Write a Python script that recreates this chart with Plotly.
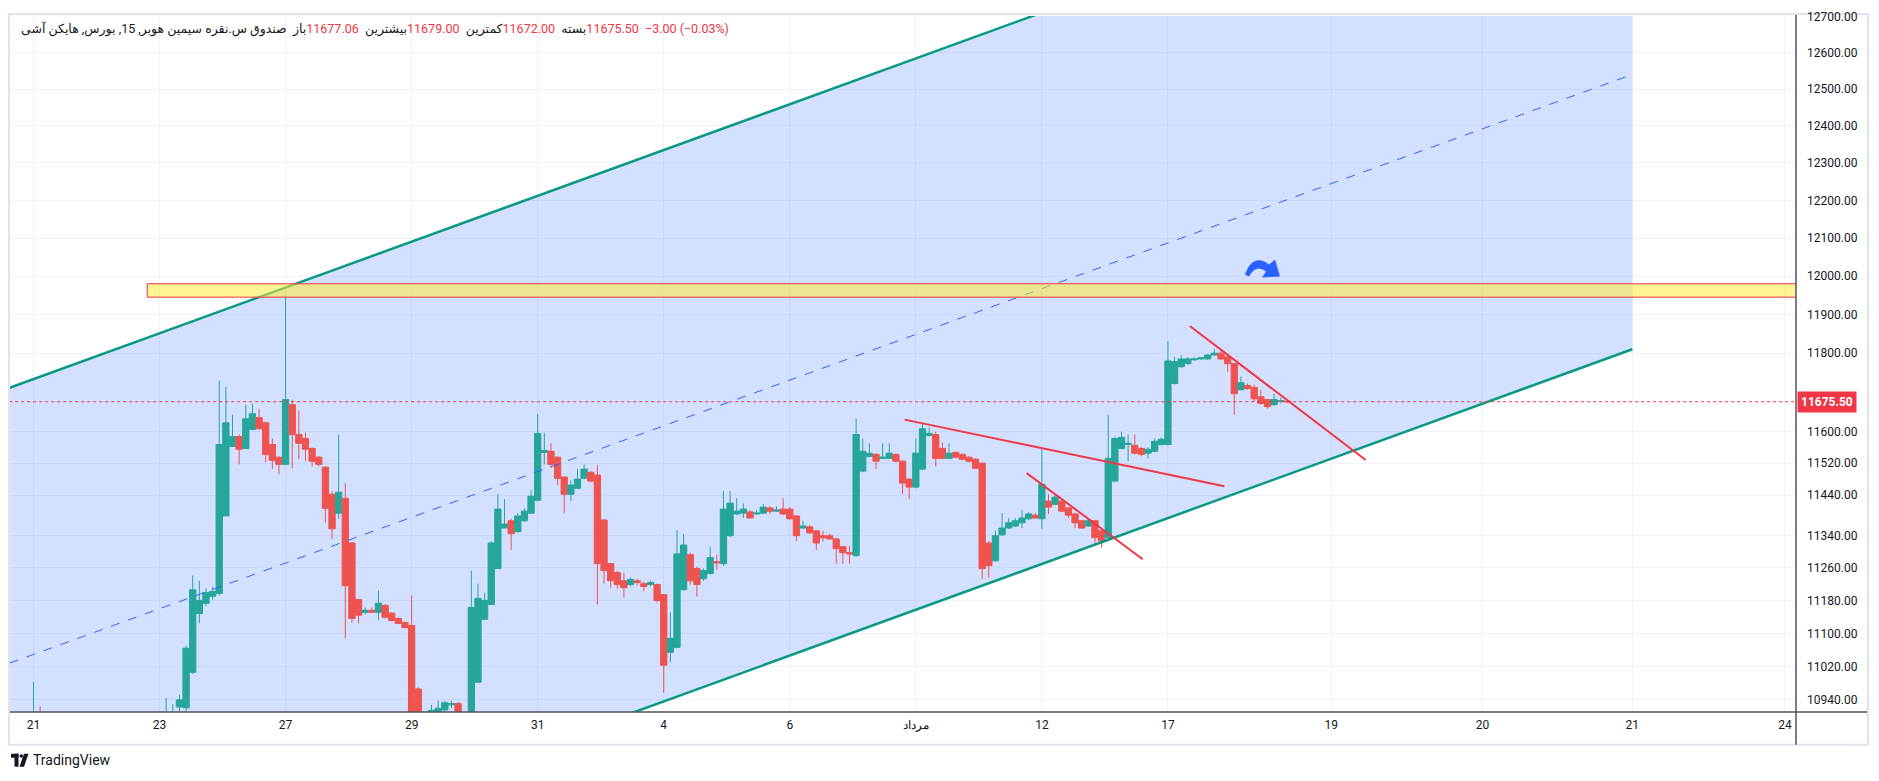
import numpy as np
import plotly.graph_objects as go

# 15-minute Heikin Ashi bars, bar 0 sits on the "21" tick
first_bar = -3
opens = [
    10860, 10870, 10865, 10885, 10890, 10880, 10870, 10860, 10850, 10845,
    10840, 10850, 10855, 10860, 10865, 10870, 10875, 10870, 10880, 10885,
    10890, 10895, 10900, 10895, 10900, 10923, 10921, 11006, 11148, 11173,
    11190, 11197, 11388, 11562, 11587, 11557, 11605, 11635, 11622, 11567,
    11535, 11517, 11668, 11592, 11582, 11557, 11535, 11510, 11442, 11395,
    11432, 11321, 11182, 11151, 11156, 11151, 11168, 11149, 11136, 11126,
    11119, 10966, 10875, 10890, 10912, 10916, 10928, 10931, 10890, 10880,
    10982, 11134, 11170, 11258, 11358, 11376, 11349, 11376, 11395, 11427,
    11547, 11550, 11535, 11485, 11442, 11457, 11482, 11497, 11490, 11378,
    11270, 11248, 11228, 11219, 11228, 11221, 11219, 11219, 11194, 11054,
    11066, 11206, 11292, 11258, 11233, 11246, 11275, 11270, 11339, 11393,
    11395, 11398, 11393, 11395, 11408, 11400, 11405, 11405, 11388, 11358,
    11361, 11351, 11339, 11339, 11331, 11312, 11297, 11290, 11500, 11537,
    11542, 11532, 11532, 11542, 11525, 11480, 11460, 11505, 11590, 11592,
    11557, 11532, 11547, 11542, 11535, 11530, 11520, 11321, 11277, 11341,
    11358, 11363, 11371, 11381, 11390, 11381, 11425, 11417, 11425, 11408,
    11393, 11376, 11363, 11376, 11351, 11334, 11475, 11557, 11567, 11565,
    11557, 11545, 11550, 11567, 11567, 11722, 11765, 11773, 11783, 11785,
    11785, 11795, 11800, 11790, 11773, 11706, 11717, 11712, 11688, 11681,
    11668, 11676, 11677.06,
]
highs = [
    10875, 10880, 10890, 10983, 10925, 10890, 10885, 10870, 10865, 10860,
    10855, 10865, 10870, 10875, 10880, 10885, 10890, 10885, 10895, 10900,
    10905, 10908, 10908, 10945, 10930, 10952, 11071, 11241, 11228, 11209,
    11214, 11729, 11714, 11642, 11592, 11668, 11671, 11658, 11625, 11582,
    11537, 11950, 11681, 11653, 11597, 11560, 11538, 11512, 11450, 11592,
    11470, 11323, 11184, 11163, 11163, 11204, 11170, 11151, 11139, 11129,
    11192, 10970, 10885, 10928, 10938, 10938, 10938, 10935, 10900, 11253,
    11221, 11199, 11326, 11442, 11430, 11381, 11395, 11407, 11452, 11645,
    11597, 11570, 11537, 11487, 11477, 11505, 11517, 11500, 11515, 11380,
    11272, 11253, 11248, 11236, 11233, 11226, 11228, 11221, 11196, 11151,
    11353, 11343, 11297, 11263, 11258, 11312, 11292, 11450, 11450, 11432,
    11420, 11403, 11403, 11417, 11412, 11412, 11432, 11410, 11390, 11376,
    11366, 11353, 11351, 11344, 11334, 11314, 11314, 11632, 11582, 11570,
    11545, 11570, 11570, 11545, 11527, 11482, 11582, 11620, 11610, 11600,
    11572, 11570, 11550, 11545, 11537, 11532, 11522, 11326, 11351, 11395,
    11383, 11383, 11403, 11398, 11395, 11557, 11442, 11442, 11427, 11410,
    11395, 11378, 11381, 11378, 11353, 11642, 11587, 11600, 11592, 11592,
    11560, 11560, 11582, 11585, 11831, 11790, 11795, 11790, 11788, 11790,
    11798, 11811, 11808, 11793, 11775, 11740, 11722, 11719, 11706, 11683,
    11696, 11686, 11679,
]
lows = [
    10845, 10855, 10860, 10870, 10875, 10860, 10850, 10840, 10835, 10830,
    10825, 10840, 10845, 10850, 10855, 10860, 10865, 10860, 10870, 10875,
    10880, 10885, 10888, 10885, 10890, 10900, 10900, 11002, 11124, 11166,
    11182, 11192, 11388, 11562, 11517, 11557, 11605, 11605, 11522, 11505,
    11492, 11515, 11507, 11530, 11525, 11512, 11512, 11371, 11331, 11381,
    11088, 11126, 11124, 11146, 11149, 11131, 11136, 11129, 11122, 11112,
    10870, 10850, 10850, 10870, 10900, 10905, 10920, 10890, 10865, 10860,
    10982, 11134, 11170, 11258, 11358, 11304, 11346, 11373, 11393, 11425,
    11517, 11507, 11465, 11395, 11425, 11455, 11480, 11472, 11170, 11221,
    11211, 11209, 11187, 11214, 11216, 11202, 11214, 11175, 10957, 11030,
    11064, 11204, 11219, 11189, 11228, 11243, 11255, 11265, 11336, 11390,
    11383, 11381, 11390, 11393, 11393, 11398, 11390, 11378, 11326, 11356,
    11344, 11304, 11324, 11329, 11270, 11270, 11270, 11287, 11497, 11535,
    11505, 11530, 11530, 11522, 11442, 11430, 11457, 11502, 11587, 11512,
    11530, 11530, 11532, 11527, 11522, 11505, 11233, 11236, 11275, 11339,
    11356, 11361, 11358, 11378, 11381, 11356, 11393, 11415, 11398, 11383,
    11358, 11356, 11361, 11319, 11309, 11331, 11472, 11555, 11525, 11542,
    11537, 11532, 11547, 11565, 11565, 11719, 11762, 11770, 11780, 11783,
    11783, 11793, 11783, 11752, 11642, 11704, 11706, 11676, 11668, 11658,
    11666, 11673, 11672,
]
closes = [
    10870, 10865, 10885, 10890, 10880, 10870, 10860, 10850, 10845, 10840,
    10850, 10855, 10860, 10865, 10870, 10875, 10870, 10880, 10885, 10890,
    10895, 10900, 10895, 10900, 10905, 10940, 11064, 11206, 11180, 11199,
    11202, 11567, 11622, 11587, 11555, 11632, 11645, 11607, 11542, 11527,
    11517, 11681, 11592, 11570, 11555, 11525, 11517, 11407, 11356, 11447,
    11216, 11136, 11144, 11156, 11151, 11173, 11139, 11131, 11124, 11114,
    10890, 10875, 10865, 10915, 10920, 10933, 10931, 10900, 10880, 11163,
    11185, 11180, 11321, 11405, 11368, 11344, 11388, 11400, 11437, 11595,
    11552, 11517, 11482, 11442, 11465, 11480, 11505, 11475, 11270, 11253,
    11228, 11219, 11211, 11231, 11224, 11214, 11224, 11180, 11023, 11088,
    11294, 11316, 11228, 11219, 11253, 11285, 11272, 11405, 11420, 11400,
    11405, 11383, 11395, 11410, 11400, 11403, 11393, 11381, 11339, 11363,
    11346, 11321, 11334, 11331, 11307, 11297, 11294, 11592, 11550, 11545,
    11525, 11535, 11545, 11525, 11470, 11460, 11545, 11607, 11595, 11532,
    11532, 11545, 11535, 11530, 11525, 11507, 11258, 11265, 11339, 11358,
    11371, 11376, 11383, 11393, 11383, 11467, 11410, 11435, 11400, 11390,
    11371, 11358, 11376, 11334, 11326, 11532, 11582, 11585, 11570, 11545,
    11542, 11555, 11575, 11580, 11780, 11778, 11785, 11785, 11785, 11788,
    11795, 11800, 11785, 11773, 11696, 11724, 11709, 11683, 11671, 11663,
    11681, 11678, 11675.5,
]
bars = list(range(first_bar, first_bar + len(closes)))

tick_bars = [0, 19, 38, 57, 76, 95, 114, 133, 152, 171, 195.6, 218.4, 241, 264]
tick_text = ['21', '23', '27', '29', '31', '4', '6', 'مرداد', '12', '17', '19', '20', '21', '24']
price_ticks = [10940, 11020, 11100, 11180, 11260, 11340, 11440, 11520, 11600,
               11800, 11900, 12000, 12100, 12200, 12300, 12400, 12500, 12600, 12700]

# drawings (bar, price)
chan_bars = [-3.6, 241]
chan_upper = [11711, 13320]
chan_lower = [10383, 11810]
chan_mid = [11028, 12540]
zone_bars = [17.15, 272]
zone_prices = [11945, 11980]
trend1_bars, trend1_prices = [131.3, 179.5], [11630, 11462]
trend2_bars, trend2_prices = [149.7, 167.2], [11495, 11281]
trend3_bars, trend3_prices = [174.3, 200.8], [11870, 11528]

legend_title = 'صندوق س.نقره سیمین هوبر, 15, بورس, هایکن آشی'
ohlc_labels = ['باز', 'بیشترین', 'کمترین', 'بسته']
ohlc_values = [11677.06, 11679.00, 11672.00, 11675.50]
change, change_pct = -3.00, -0.03
last_price = closes[-1]

UP, DOWN, RED = '#26a69a', '#ef5350', '#f23645'
TEAL, BLUE = '#089981', '#2962ff'

X_RANGE = [-3.54, 265.67]
Y_RANGE = [np.log10(10911), np.log10(12701)]

fig = go.Figure()

# channel background on the base axes, so it stays under the candles
fig.add_trace(go.Scatter(
    x=chan_bars + chan_bars[::-1], y=chan_upper + chan_lower[::-1],
    fill='toself', fillcolor='rgba(41,98,255,0.2)', mode='lines',
    line=dict(width=0), hoverinfo='skip'))

# everything else on the overlay axes
fig.add_trace(go.Candlestick(
    x=bars, open=opens, high=highs, low=lows, close=closes,
    increasing=dict(line=dict(color=UP, width=1), fillcolor=UP),
    decreasing=dict(line=dict(color=DOWN, width=1), fillcolor=DOWN),
    whiskerwidth=0, xaxis='x2', yaxis='y2'))

fig.add_trace(go.Scatter(x=chan_bars, y=chan_mid, mode='lines', xaxis='x2', yaxis='y2',
                         line=dict(color=BLUE, width=1, dash='dash')))
for prices in (chan_upper, chan_lower):
    fig.add_trace(go.Scatter(x=chan_bars, y=prices, mode='lines', xaxis='x2', yaxis='y2',
                             line=dict(color=TEAL, width=2.5)))

# resistance zone
fig.add_trace(go.Scatter(
    x=[zone_bars[0], zone_bars[1], zone_bars[1], zone_bars[0], zone_bars[0]],
    y=[zone_prices[0], zone_prices[0], zone_prices[1], zone_prices[1], zone_prices[0]],
    fill='toself', fillcolor='rgba(255,235,59,0.55)', mode='lines', xaxis='x2', yaxis='y2',
    line=dict(color=RED, width=1)))

for bx, py in ((trend1_bars, trend1_prices), (trend2_bars, trend2_prices), (trend3_bars, trend3_prices)):
    fig.add_trace(go.Scatter(x=bx, y=py, mode='lines', xaxis='x2', yaxis='y2',
                             line=dict(color=RED, width=2)))

# last price line
fig.add_trace(go.Scatter(x=[-10, 280], y=[last_price, last_price], mode='lines',
                         xaxis='x2', yaxis='y2', line=dict(color=RED, width=1, dash='dot')))

# legend line at top
LRM = '\u200e'
parts = [legend_title + LRM]
for lab, val in zip(ohlc_labels, ohlc_values):
    parts.append(f"{lab}{LRM}<span style='color:{RED}'>{val:.2f}</span>")
parts.append(f"<span style='color:{RED}'>{LRM}−{abs(change):.2f} (−{abs(change_pct):.2f}%)</span>")
legend_text = '  '.join(parts)


def px_x(v):
    return (v - 10) / 1786


def px_y(v):
    return 1 - (v - 12) / 700


def px_path(cmds):
    out = []
    for c in cmds:
        if isinstance(c, str):
            out.append(c)
        else:
            out.append(f'{px_x(c[0]):.5f},{px_y(c[1]):.5f}')
    return ' '.join(out)


fig.add_annotation(xref='paper', yref='paper', x=px_x(19), y=px_y(25),
                   xanchor='left', yanchor='middle', showarrow=False,
                   text=legend_text, font=dict(size=12.5, color='#131722', family='Roboto, DejaVu Sans'))

fig.add_annotation(xref='paper', yref='y', x=1, y=np.log10(last_price), xanchor='left',
                   yanchor='middle', showarrow=False, text=f'<b>{last_price:.2f}</b>',
                   bgcolor=RED, borderpad=3, xshift=1,
                   font=dict(size=12, color='white', family='Roboto'))

fig.add_annotation(xref='paper', yref='paper', x=px_x(31), y=px_y(760), xanchor='left',
                   yanchor='middle', showarrow=False, text='TradingView',
                   font=dict(size=14, color='#131722', family='Roboto'))

shapes = [
    # outer frame
    dict(type='rect', xref='paper', yref='paper', x0=px_x(9), x1=px_x(1868), y0=px_y(745), y1=px_y(10),
         line=dict(color='#e0e3eb', width=2), layer='below'),
    # axes lines
    dict(type='line', xref='paper', yref='paper', x0=px_x(10), x1=px_x(1867), y0=px_y(712), y1=px_y(712),
         line=dict(color='#50535e', width=1.5)),
    dict(type='line', xref='paper', yref='paper', x0=px_x(1796), x1=px_x(1796), y0=px_y(745), y1=px_y(11),
         line=dict(color='#50535e', width=1.5)),
    # curved blue arrow
    dict(type='path', xref='paper', yref='paper',
         path=px_path(['M', (1245, 272), 'Q', (1253, 250), (1269, 262), 'L', (1275, 257),
                       'L', (1280, 274), 'L', (1262, 275), 'L', (1266, 269),
                       'Q', (1256, 261), (1249, 274), 'Z']),
         fillcolor=BLUE, line=dict(width=0)),
    # logo
    dict(type='rect', xref='paper', yref='paper', x0=px_x(11), x1=px_x(18.5), y0=px_y(758), y1=px_y(754),
         fillcolor='#131722', line=dict(width=0)),
    dict(type='rect', xref='paper', yref='paper', x0=px_x(14.5), x1=px_x(18.5), y0=px_y(767), y1=px_y(754),
         fillcolor='#131722', line=dict(width=0)),
    dict(type='circle', xref='paper', yref='paper', x0=px_x(19.5), x1=px_x(23), y0=px_y(758), y1=px_y(754.5),
         fillcolor='#131722', line=dict(width=0)),
    dict(type='path', xref='paper', yref='paper',
         path=px_path(['M', (24, 754), 'L', (28.5, 754), 'L', (24, 767), 'L', (19.5, 767), 'Z']),
         fillcolor='#131722', line=dict(width=0)),
]

fig.update_layout(
    width=1879, height=781,
    margin=dict(l=10, r=83, t=12, b=69),
    paper_bgcolor='white', plot_bgcolor='white',
    showlegend=False,
    shapes=shapes,
    boxgap=0.05, boxgroupgap=0,
    font=dict(family='Roboto', size=12, color='#131722'),
    xaxis=dict(range=X_RANGE, tickvals=tick_bars, ticktext=tick_text,
               showgrid=True, gridcolor='#f0f3fa', zeroline=False, showline=False,
               ticks='', rangeslider=dict(visible=False), fixedrange=True,
               ticklabelstandoff=4, tickfont=dict(size=12, color='#131722')),
    yaxis=dict(type='log', side='right', range=Y_RANGE,
               tickvals=price_ticks, ticktext=[f'{v:.2f}' for v in price_ticks],
               showgrid=True, gridcolor='#f0f3fa', zeroline=False, showline=False,
               ticks='', ticklabelstandoff=10, tickfont=dict(size=12, color='#131722')),
    xaxis2=dict(overlaying='x', range=X_RANGE, visible=False, showgrid=False,
                zeroline=False, rangeslider=dict(visible=False), fixedrange=True),
    yaxis2=dict(overlaying='y', type='log', side='right', range=Y_RANGE, visible=False,
                showgrid=False, zeroline=False),
)

fig.write_html("out.html", config={'displayModeBar': False},
               post_script="document.body.style.margin='0';document.body.style.overflow='hidden';")
